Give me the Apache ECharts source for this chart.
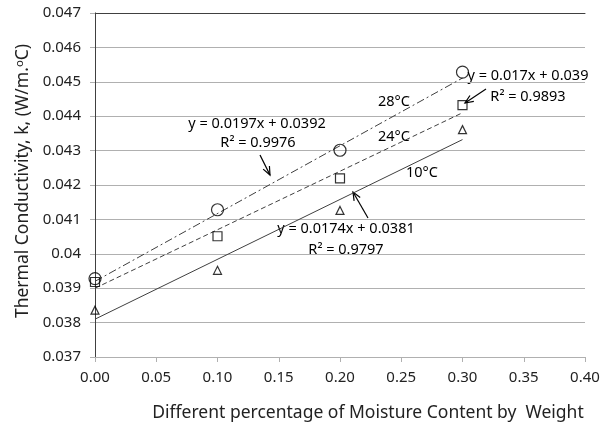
<!DOCTYPE html>
<html>
<head>
<meta charset="utf-8">
<script src="https://cdn.jsdelivr.net/npm/echarts@6/dist/echarts.min.js"></script>
<style>
  html, body { margin: 0; padding: 0; background: #fff; }
  #chart { width: 608px; height: 428px; }
</style>
</head>
<body>
<div id="chart"></div>
<script>
// measured points, moisture content (x) vs conductivity (y)
var moisture = [0.00, 0.10, 0.20, 0.30];
var k28 = [0.03928, 0.04128, 0.04301, 0.04528];
var k24 = [0.03918, 0.04051, 0.04219, 0.04432];
var k10 = [0.03836, 0.03952, 0.04126, 0.04361];

// linear trend lines, end points at x = 0 and x = 0.3
var trendX = [0.00, 0.30];
var trend28 = [0.0392, 0.04511];
var trend24 = [0.0390, 0.0441];
var trend10 = [0.0381, 0.04332];

var xTicks = ['0.00', '0.05', '0.10', '0.15', '0.20', '0.25', '0.30', '0.35', '0.40'];

var font = 'Noto Sans';

function pairs(xs, ys) {
    var out = [];
    for (var i = 0; i < xs.length; i++) {
        out.push([xs[i], ys[i]]);
    }
    return out;
}

function trendSeries(ys, dash) {
    return {
        type: 'line',
        data: pairs(trendX, ys),
        symbol: 'none',
        silent: true,
        lineStyle: { color: '#404040', width: 1, type: dash },
        z: 2
    };
}

function markerSeries(ys, symbol, size) {
    return {
        type: 'scatter',
        data: pairs(moisture, ys),
        symbol: symbol,
        symbolSize: size,
        itemStyle: { color: 'rgba(255,255,255,0)', borderColor: '#000', borderWidth: 1.2 },
        z: 3
    };
}

function label(text, x, y) {
    return {
        type: 'text', x: x, y: y,
        style: { text: text, fill: '#000', font: '14.5px "' + font + '"', align: 'center', verticalAlign: 'middle' }
    };
}

function arrow(x1, y1, x2, y2) {
    var a = Math.atan2(y2 - y1, x2 - x1);
    var len = 9, w = 0.4;
    return [{
        type: 'line',
        shape: { x1: x1, y1: y1, x2: x2, y2: y2 },
        style: { stroke: '#000', lineWidth: 1.2 }
    }, {
        type: 'polyline',
        shape: { points: [
            [x2 - len * Math.cos(a - w), y2 - len * Math.sin(a - w)],
            [x2, y2],
            [x2 - len * Math.cos(a + w), y2 - len * Math.sin(a + w)]
        ] },
        style: { stroke: '#000', lineWidth: 1.2, fill: null }
    }];
}

var chart = echarts.init(document.getElementById('chart'));

chart.setOption({
    animation: false,
    backgroundColor: '#fff',
    grid: { left: 95, right: 23, top: 13, bottom: 71, containLabel: false, outerBoundsMode: 'none' },
    xAxis: [{
        type: 'value', min: 0, max: 0.4, interval: 0.05,
        axisLine: { show: true, lineStyle: { color: '#b0b0b0' } },
        axisTick: { show: true, length: 5, lineStyle: { color: '#b0b0b0' } },
        splitLine: { show: false },
        axisLabel: {
            color: '#222', fontFamily: font, fontSize: 15, margin: 13,
            formatter: function (v) { return xTicks[Math.round(v / 0.05)]; }
        },
        name: 'Different percentage of Moisture Content by  Weight',
        nameLocation: 'middle', nameGap: 47,
        nameTextStyle: { color: '#222', fontFamily: font, fontSize: 17.5, padding: [0, 0, 0, 56] }
    }, {
        type: 'value', position: 'top', min: 0, max: 0.4,
        axisLine: { show: true, lineStyle: { color: '#404040' } },
        axisTick: { show: false }, axisLabel: { show: false }, splitLine: { show: false }
    }],
    yAxis: [{
        type: 'value', min: 0.037, max: 0.047, interval: 0.001,
        axisLine: { show: true, lineStyle: { color: '#b0b0b0' } },
        axisTick: { show: true, length: 5, lineStyle: { color: '#b0b0b0' } },
        splitLine: { show: true, lineStyle: { color: '#b0b0b0' } },
        axisLabel: {
            color: '#222', fontFamily: font, fontSize: 15, margin: 14,
            formatter: function (v) { return parseFloat(v.toFixed(3)).toString(); }
        },
        name: 'Thermal Conductivity, k, (W/m.ᵒC)',
        nameLocation: 'middle', nameGap: 63, nameRotate: 90,
        nameTextStyle: { color: '#222', fontFamily: font, fontSize: 17.5, padding: [0, 0, 0, 8] }
    }, {
        type: 'value', position: 'right', min: 0.037, max: 0.047,
        axisLine: { show: true, lineStyle: { color: '#404040' } },
        axisTick: { show: false }, axisLabel: { show: false }, splitLine: { show: false }
    }],
    series: [
        trendSeries(trend28, [8, 3, 2, 3]),
        trendSeries(trend24, [5, 3]),
        trendSeries(trend10, 'solid'),
        markerSeries(k28, 'circle', 12),
        markerSeries(k24, 'rect', 9),
        markerSeries(k10, 'triangle', 8)
    ],
    graphic: [
        label('28°C', 394, 102),
        label('24°C', 394, 137),
        label('10°C', 422, 173),
        label('y = 0.0197x + 0.0392', 257, 124),
        label('R² = 0.9976', 258, 143),
        label('y = 0.0174x + 0.0381', 346, 229),
        label('R² = 0.9797', 346, 250),
        label('y = 0.017x + 0.039', 528, 76),
        label('R² = 0.9893', 528, 97)
    ].concat(arrow(260, 155, 270, 175))
     .concat(arrow(368, 218, 353, 192))
     .concat(arrow(486, 89, 465, 103))
});
</script>
</body>
</html>
